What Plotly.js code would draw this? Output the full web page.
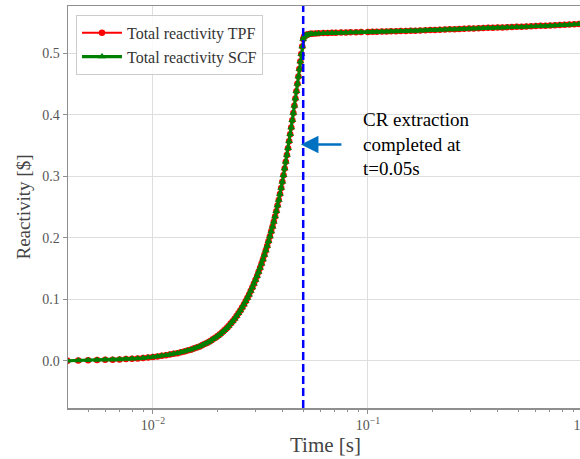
<!DOCTYPE html>
<html>
<head>
<meta charset="utf-8">
<script src="https://cdn.plot.ly/plotly-3.0.1.min.js"></script>
<style>
html, body { margin: 0; padding: 0; overflow: hidden; background: #fff; }
#chart { width: 583px; height: 459px; }
</style>
</head>
<body>
<div id="chart"></div>
<script>
// ---- Data ----
const timeS = [
  0.0040, 0.0045, 0.0050, 0.0055, 0.0060, 0.0065, 0.0070, 0.0075, 0.0080, 0.0085,
  0.0090, 0.0095, 0.0100, 0.0105, 0.0110, 0.0115, 0.0120, 0.0125, 0.0130, 0.0135,
  0.0140, 0.0145, 0.0150, 0.0155, 0.0160, 0.0165, 0.0170, 0.0175, 0.0180, 0.0185,
  0.0190, 0.0195, 0.0200, 0.0205, 0.0210, 0.0215, 0.0220, 0.0225, 0.0230, 0.0235,
  0.0240, 0.0245, 0.0250, 0.0255, 0.0260, 0.0265, 0.0270, 0.0275, 0.0280, 0.0285,
  0.0290, 0.0295, 0.0300, 0.0305, 0.0310, 0.0315, 0.0320, 0.0325, 0.0330, 0.0335,
  0.0340, 0.0345, 0.0350, 0.0355, 0.0360, 0.0365, 0.0370, 0.0375, 0.0380, 0.0385,
  0.0390, 0.0395, 0.0400, 0.0405, 0.0410, 0.0415, 0.0420, 0.0425, 0.0430, 0.0435,
  0.0440, 0.0445, 0.0450, 0.0455, 0.0460, 0.0465, 0.0470, 0.0475, 0.0480, 0.0485,
  0.0490, 0.0495, 0.0500,
  0.0505, 0.051, 0.0515, 0.052, 0.053, 0.054, 0.055, 0.057, 0.059, 0.062,
  0.065, 0.068, 0.071, 0.075, 0.079, 0.083, 0.088, 0.093, 0.100, 0.105,
  0.110, 0.116, 0.122, 0.128, 0.135, 0.142, 0.150, 0.158, 0.166, 0.175,
  0.185, 0.195, 0.205, 0.216, 0.228, 0.240, 0.253, 0.266, 0.280, 0.295,
  0.310, 0.327, 0.344, 0.362, 0.381, 0.401, 0.422, 0.444, 0.467, 0.492,
  0.518, 0.545, 0.574, 0.604, 0.636, 0.669, 0.704, 0.741, 0.780, 0.821,
  0.864, 0.910, 0.957, 1.000
];

const reactivityTPF = [
  0.0000, 0.0004, 0.0008, 0.0011, 0.0015, 0.0018, 0.0022, 0.0027, 0.0032, 0.0038,
  0.0045, 0.0053, 0.0062, 0.0071, 0.0080, 0.0090, 0.0100, 0.0112, 0.0124, 0.0137,
  0.0150, 0.0165, 0.0181, 0.0198, 0.0215, 0.0234, 0.0255, 0.0276, 0.0298, 0.0322,
  0.0348, 0.0374, 0.0402, 0.0432, 0.0464, 0.0496, 0.0530, 0.0567, 0.0605, 0.0644,
  0.0684, 0.0728, 0.0773, 0.0819, 0.0866, 0.0917, 0.0969, 0.1022, 0.1076, 0.1134,
  0.1193, 0.1253, 0.1314, 0.1378, 0.1444, 0.1510, 0.1578, 0.1649, 0.1721, 0.1794,
  0.1868, 0.1945, 0.2023, 0.2102, 0.2182, 0.2264, 0.2348, 0.2435, 0.2525, 0.2618,
  0.2714, 0.2813, 0.2914, 0.3020, 0.3128, 0.3237, 0.3348, 0.3460, 0.3572, 0.3685,
  0.3798, 0.3915, 0.4032, 0.4150, 0.4268, 0.4387, 0.4507, 0.4627, 0.4748, 0.4870,
  0.4992, 0.5115, 0.5238,
  0.5278, 0.5293, 0.5301, 0.5307, 0.5316, 0.5321, 0.5324, 0.5327, 0.5330, 0.5333,
  0.5336, 0.5338, 0.5340, 0.5342, 0.5344, 0.5346, 0.5348, 0.5350, 0.5352, 0.5354,
  0.5356, 0.5358, 0.5360, 0.5362, 0.5364, 0.5366, 0.5368, 0.5371, 0.5373, 0.5376,
  0.5379, 0.5382, 0.5385, 0.5388, 0.5391, 0.5394, 0.5397, 0.5400, 0.5403, 0.5406,
  0.5409, 0.5412, 0.5415, 0.5418, 0.5421, 0.5423, 0.5426, 0.5429, 0.5432, 0.5435,
  0.5438, 0.5441, 0.5444, 0.5447, 0.5451, 0.5454, 0.5458, 0.5462, 0.5466, 0.5470,
  0.5474, 0.5478, 0.5482, 0.5486
];

const reactivitySCF = [
  0.0000, 0.0004, 0.0008, 0.0011, 0.0015, 0.0018, 0.0022, 0.0027, 0.0032, 0.0038,
  0.0045, 0.0053, 0.0062, 0.0071, 0.0080, 0.0090, 0.0100, 0.0112, 0.0124, 0.0137,
  0.0150, 0.0165, 0.0181, 0.0198, 0.0215, 0.0234, 0.0255, 0.0276, 0.0298, 0.0322,
  0.0348, 0.0374, 0.0402, 0.0432, 0.0464, 0.0496, 0.0530, 0.0567, 0.0605, 0.0644,
  0.0684, 0.0728, 0.0773, 0.0819, 0.0866, 0.0917, 0.0969, 0.1022, 0.1076, 0.1134,
  0.1193, 0.1253, 0.1314, 0.1378, 0.1444, 0.1510, 0.1578, 0.1649, 0.1721, 0.1794,
  0.1868, 0.1945, 0.2023, 0.2102, 0.2182, 0.2264, 0.2348, 0.2435, 0.2525, 0.2618,
  0.2714, 0.2813, 0.2914, 0.3020, 0.3128, 0.3237, 0.3348, 0.3460, 0.3572, 0.3685,
  0.3798, 0.3915, 0.4032, 0.4150, 0.4268, 0.4387, 0.4507, 0.4627, 0.4748, 0.4870,
  0.4992, 0.5115, 0.5238,
  0.5275, 0.5290, 0.5298, 0.5303, 0.5312, 0.5317, 0.5320, 0.5323, 0.5326, 0.5329,
  0.5332, 0.5334, 0.5336, 0.5338, 0.5340, 0.5342, 0.5344, 0.5346, 0.5348, 0.5350,
  0.5352, 0.5354, 0.5356, 0.5358, 0.5360, 0.5362, 0.5364, 0.5367, 0.5369, 0.5372,
  0.5375, 0.5378, 0.5381, 0.5384, 0.5387, 0.5390, 0.5393, 0.5396, 0.5399, 0.5402,
  0.5405, 0.5408, 0.5411, 0.5414, 0.5417, 0.5419, 0.5422, 0.5425, 0.5428, 0.5431,
  0.5434, 0.5437, 0.5440, 0.5443, 0.5447, 0.5450, 0.5454, 0.5458, 0.5462, 0.5466,
  0.5470, 0.5474, 0.5478, 0.5482
];

const seriesNames = ['Total reactivity TPF', 'Total reactivity SCF'];
const extractionTime = 0.05;           // CR extraction completed (s)
const arrowPoint = { t: 0.0488, rho: 0.352 };
const annotationText = 'CR extraction<br>completed at<br>t=0.05s';

const xTickVals = [0.01, 0.1, 1];
const xTickText = ['10<sup>\u22122</sup>', '10<sup>\u22121</sup>', '10<sup>0</sup>'];
const xMinorVals = [0.005, 0.006, 0.007, 0.008, 0.009,
                    0.02, 0.03, 0.04, 0.05, 0.06, 0.07, 0.08, 0.09,
                    0.2, 0.3, 0.4, 0.5, 0.6, 0.7, 0.8, 0.9];
const yTickVals = [0.0, 0.1, 0.2, 0.3, 0.4, 0.5];
const yTickText = ['0.0', '0.1', '0.2', '0.3', '0.4', '0.5'];

const xRange = [0.00403, 1.0];
const yRange = [-0.0769, 0.5774];

// ---- Plot ----
const serif = 'Liberation Serif, DejaVu Serif, serif';
const spine = '#8f8f8f';
const grid = '#dedede';

const traces = [
  {
    x: timeS, y: reactivityTPF, name: seriesNames[0],
    type: 'scatter', mode: 'lines+markers',
    line: { color: '#ff0000', width: 1.8 },
    marker: { symbol: 'circle', size: 6.5, color: '#ff0000' },
    cliponaxis: true
  },
  {
    x: timeS, y: reactivitySCF, name: seriesNames[1],
    type: 'scatter', mode: 'lines+markers',
    line: { color: '#008000', width: 3.2 },
    marker: { symbol: 'triangle-up', size: 7, color: '#008000' },
    cliponaxis: true
  },
  {
    x: [extractionTime, extractionTime], y: yRange,
    type: 'scatter', mode: 'lines', showlegend: false, hoverinfo: 'skip',
    line: { color: '#0000ff', width: 2.5, dash: '8px,4px' },
    cliponaxis: true
  }
];

const layout = {
  width: 583, height: 459,
  margin: { l: 68, r: 0, t: 6, b: 51 },
  paper_bgcolor: '#ffffff', plot_bgcolor: '#ffffff',
  font: { family: serif, color: '#555555', size: 13 },
  showlegend: true,
  legend: {
    x: 0.0155, y: 0.978, xanchor: 'left', yanchor: 'top',
    bgcolor: 'rgba(255,255,255,0.85)', bordercolor: '#cccccc', borderwidth: 1,
    font: { family: serif, size: 16, color: '#333333' },
    itemwidth: 40,
    tracegroupgap: 0
  },
  xaxis: {
    type: 'log',
    range: [Math.log10(xRange[0]), Math.log10(xRange[1])],
    tickmode: 'array', tickvals: xTickVals, ticktext: xTickText,
    ticks: 'outside', ticklen: 4, tickwidth: 1, tickcolor: spine,
    ticklabeloverflow: 'allow',
    tickfont: { family: serif, size: 14, color: '#555555' },
    showgrid: true, gridcolor: grid, gridwidth: 1,
    showline: true, linecolor: spine, linewidth: 1.5, mirror: true,
    zeroline: false,
    minor: { tickmode: 'array', tickvals: xMinorVals, ticks: 'outside',
             ticklen: 2.5, tickcolor: spine, showgrid: false },
    title: { text: 'Time [s]', font: { family: serif, size: 21, color: '#444444' }, standoff: 2 }
  },
  yaxis: {
    range: yRange,
    tickmode: 'array', tickvals: yTickVals, ticktext: yTickText,
    ticks: 'outside', ticklen: 4, tickwidth: 1, tickcolor: spine,
    tickfont: { family: serif, size: 14, color: '#555555' },
    showgrid: true, gridcolor: grid, gridwidth: 1,
    showline: true, linecolor: spine, linewidth: 1.5, mirror: true,
    zeroline: false,
    title: { text: 'Reactivity [$]', font: { family: serif, size: 19, color: '#444444' }, standoff: 6 }
  },
  annotations: [
    {
      xref: 'x', yref: 'y',
      x: Math.log10(arrowPoint.t), y: arrowPoint.rho,
      ax: 42, ay: 0, axref: 'pixel', ayref: 'pixel',
      text: '', showarrow: true,
      arrowhead: 2, arrowsize: 1.4, arrowwidth: 2.5, arrowcolor: '#0070c0'
    },
    {
      xref: 'paper', yref: 'paper',
      x: 0.569, y: 0.75, xanchor: 'left', yanchor: 'top',
      text: annotationText, showarrow: false, align: 'left',
      font: { family: 'Liberation Serif, Times New Roman, serif', size: 19, color: '#000000' }
    }
  ]
};

Plotly.newPlot('chart', traces, layout, { displayModeBar: false, staticPlot: true });
</script>
</body>
</html>
